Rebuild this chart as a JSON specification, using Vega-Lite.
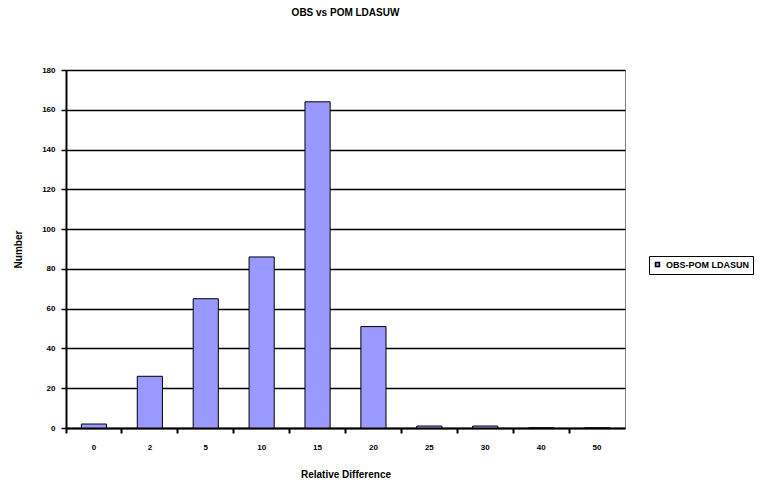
{
  "$schema": "https://vega.github.io/schema/vega-lite/v6.json",
  "autosize": "none",
  "width": 559,
  "height": 358,
  "padding": {"left": 66, "top": 70, "right": 144, "bottom": 54},
  "background": "white",
  "title": {
    "text": "OBS vs POM LDASUW",
    "font": "Liberation Sans",
    "fontSize": 10,
    "fontWeight": "bold",
    "color": "black",
    "anchor": "middle",
    "offset": 48
  },
  "config": {
    "view": {"stroke": "#808080", "strokeWidth": 1},
    "font": "Liberation Sans"
  },
  "data": {
    "values": [
      {"diff": "0", "count": 2, "series": "OBS-POM LDASUN"},
      {"diff": "2", "count": 26, "series": "OBS-POM LDASUN"},
      {"diff": "5", "count": 65, "series": "OBS-POM LDASUN"},
      {"diff": "10", "count": 86, "series": "OBS-POM LDASUN"},
      {"diff": "15", "count": 164, "series": "OBS-POM LDASUN"},
      {"diff": "20", "count": 51, "series": "OBS-POM LDASUN"},
      {"diff": "25", "count": 1, "series": "OBS-POM LDASUN"},
      {"diff": "30", "count": 1, "series": "OBS-POM LDASUN"},
      {"diff": "40", "count": 0, "series": "OBS-POM LDASUN"},
      {"diff": "50", "count": 0, "series": "OBS-POM LDASUN"}
    ]
  },
  "mark": {"type": "bar", "stroke": "#000000", "strokeWidth": 1, "width": {"band": 0.45}},
  "encoding": {
    "x": {
      "field": "diff",
      "type": "ordinal",
      "sort": null,
      "scale": {"paddingInner": 0, "paddingOuter": 0},
      "axis": {
        "title": "Relative Difference",
        "titleFont": "Liberation Sans",
        "titleFontSize": 10,
        "titleFontWeight": "bold",
        "titleColor": "black",
        "titlePadding": 18,
        "labelAngle": 0,
        "labelFontSize": 8,
        "labelFontWeight": "bold",
        "labelColor": "black",
        "labelPadding": 10,
        "bandPosition": 0,
        "tickColor": "black",
        "tickSize": 5,
        "tickWidth": 2,
        "domainColor": "black",
        "domainWidth": 2,
        "grid": false
      }
    },
    "y": {
      "field": "count",
      "type": "quantitative",
      "scale": {"domain": [0, 180], "nice": false},
      "axis": {
        "title": "Number",
        "titleFont": "Liberation Sans",
        "titleFontSize": 10,
        "titleFontWeight": "bold",
        "titleColor": "black",
        "titlePadding": 18,
        "values": [0, 20, 40, 60, 80, 100, 120, 140, 160, 180],
        "labelFontSize": 8,
        "labelFontWeight": "bold",
        "labelColor": "black",
        "labelPadding": 6,
        "tickColor": "black",
        "tickSize": 5,
        "tickWidth": 1.5,
        "domainColor": "black",
        "domainWidth": 2,
        "grid": true,
        "gridColor": "black",
        "gridWidth": 1.5
      }
    },
    "color": {
      "field": "series",
      "type": "nominal",
      "scale": {"range": ["#9999FF"]},
      "legend": {
        "title": null,
        "orient": "none",
        "legendX": 583,
        "legendY": 186,
        "strokeColor": "black",
        "padding": 4,
        "labelFontSize": 9,
        "labelFontWeight": "bold",
        "labelColor": "black",
        "symbolType": "square",
        "symbolSize": 16,
        "symbolStrokeColor": "black"
      }
    }
  }
}
